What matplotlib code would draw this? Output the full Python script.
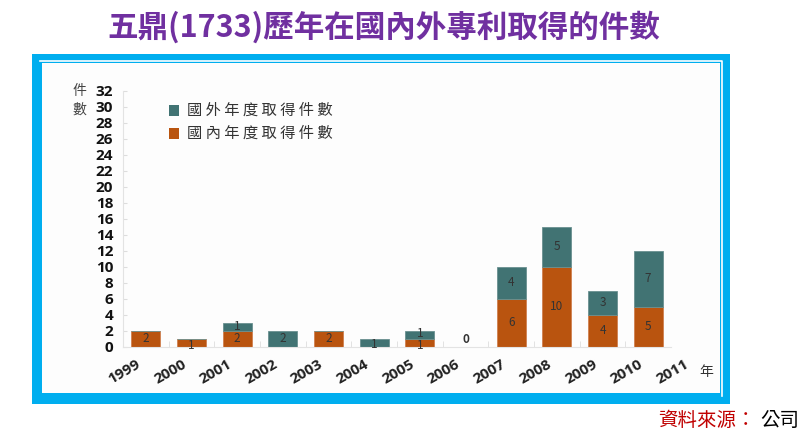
import matplotlib
matplotlib.use("Agg")
import matplotlib.pyplot as plt
from matplotlib.patches import Rectangle
import numpy as np

plt.rcParams["font.family"] = ["Noto Sans CJK TC", "DejaVu Sans"]

years = ["1999", "2000", "2001", "2002", "2003", "2004", "2005",
         "2006", "2007", "2008", "2009", "2010", "2011"]
domestic = [2, 1, 2, 0, 2, 0, 1, 0, 6, 10, 4, 5]
foreign = [0, 0, 1, 2, 0, 1, 1, 0, 4, 5, 3, 7]
y_ticks = list(range(0, 33, 2))

title = "五鼎(1733)歷年在國內外專利取得的件數"
legend_labels = ["國 外 年 度 取 得 件 數", "國 內 年 度 取 得 件 數"]

ORANGE = "#B9540F"
TEAL = "#417373"
BLUE = "#00AEEF"
W, H = 810, 445

fig = plt.figure(figsize=(8.1, 4.45), dpi=100)

# background layer in pixel coordinates
bg = fig.add_axes([0, 0, 1, 1], zorder=0)
bg.set_xlim(0, W)
bg.set_ylim(H, 0)
bg.axis("off")
bg.add_patch(Rectangle((32, 54), 698, 350, color=BLUE, lw=0))
bg.add_patch(Rectangle((42, 63), 678, 330, facecolor="#FDFDFD", lw=0))
bg.plot([40, 722, 722], [61, 61, 396], color="white", lw=1.2)
bg.text(384, 27, title, color="#7030A0", fontsize=22, fontweight="bold",
        ha="center", va="center")
bg.text(756, 420, "資料來源：", color="#C00000", fontsize=14, ha="right", va="center")
bg.text(760, 420, "公司", color="black", fontsize=14, ha="left", va="center")
bg.text(79, 100, "件\n數", color="#444444", fontsize=10, ha="center", va="center",
        linespacing=1.4)
bg.text(706, 372, "年", color="#333333", fontsize=10, ha="center", va="center")

# legend drawn by hand
for i, (lab, col) in enumerate(zip(legend_labels, [TEAL, ORANGE])):
    yy = 110 + i * 23
    bg.add_patch(Rectangle((169, yy - 5.5), 10, 11, color=col, lw=0))
    bg.text(187, yy, lab, fontsize=11, color="#333333", va="center", ha="left")

ax = fig.add_axes([123 / W, 1 - 347 / H, 548 / W, 256 / H], zorder=1)
ax.patch.set_alpha(0)
x = np.arange(len(domestic))
bw = 0.64
ax.bar(x, domestic, bw, color=ORANGE, edgecolor="#D08050", lw=0.6)
ax.bar(x, foreign, bw, bottom=domestic, color=TEAL, edgecolor="#6A9090", lw=0.6)

for i in range(len(domestic)):
    d, f = domestic[i], foreign[i]
    if d > 0:
        ax.text(i, d / 2 - (0.3 if d == 1 else 0), str(d), ha="center", va="center",
                fontsize=8.5, color="#333333")
    if f > 0:
        ax.text(i, d + f / 2 - (0.25 if f == 1 and d == 0 else 0) + (0.2 if d == 1 else 0),
                str(f), ha="center", va="center", fontsize=8.5, color="#333333")
    if d == 0 and f == 0:
        ax.text(i, 0.15, "0", ha="center", va="bottom", fontsize=8.5,
                fontweight="bold", color="#333333")

ax.set_xlim(-0.5, 11.5)
ax.set_ylim(0, 32)
ax.set_yticks(y_ticks)
ax.set_yticklabels([str(v) for v in y_ticks], fontsize=11, fontweight="bold",
                   family="Open Sans", color="#111111")

# year labels, rotated, right end just left of each slot centre
ax.set_xticks(np.arange(-0.5, 11.5, 1), minor=True)
ax.set_xticks([])
for i, yr in enumerate(years):
    ax.text(i - 0.22, -10 / 256, yr, transform=ax.get_xaxis_transform(),
            rotation=30, rotation_mode="anchor", ha="right", va="top",
            fontsize=11, fontweight="bold", family="Open Sans", color="#222222",
            clip_on=False)
ax.tick_params(axis="x", which="minor", length=4, color="#DDDDDD", direction="in")
ax.tick_params(axis="y", length=3, color="#DDDDDD", direction="in", pad=7)
for s in ["top", "right"]:
    ax.spines[s].set_visible(False)
ax.spines["left"].set_color("#E3E3E3")
ax.spines["bottom"].set_color("#E3E3E3")

fig.savefig("out.png", dpi=100)
